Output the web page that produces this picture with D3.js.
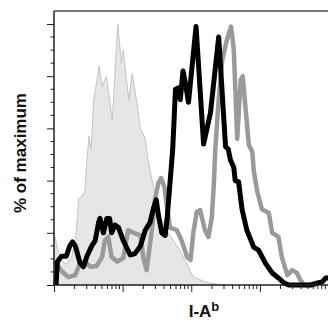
<!DOCTYPE html>
<html><head><meta charset="utf-8">
<script src="https://cdn.jsdelivr.net/npm/d3@7"></script>
<style>html,body{margin:0;padding:0;background:#fff;}svg{display:block;}</style>
</head><body>
<svg id="chart" width="328" height="325"></svg>
<script>
// x values in log10 decades of fluorescence (axis 10^0..10^4), y in % of maximum
const controlX = [0.00,0.06,0.12,0.18,0.26,0.32,0.36,0.41,0.45,0.48,0.51,0.54,0.58,0.66,0.70,0.76,0.80,0.85,0.89,0.93,0.98,1.01,1.05,1.09,1.14,1.20,1.26,1.33,1.37,1.43,1.49,1.55,1.64,1.74,1.84,1.94,2.03,2.13,2.23,2.35,2.50];
const controlY = [20,13,9,8,11,19,33,34,36,48,57,52,71,84,76,80,73,63,82,100,85,90,80,71,81,71,60,56,48,40,33,26,21,17,13,8,3,2,1,0.4,0];

const blackX = [0.03,0.05,0.11,0.18,0.23,0.27,0.31,0.38,0.43,0.48,0.55,0.60,0.65,0.67,0.72,0.77,0.81,0.84,0.89,0.94,1.01,1.11,1.18,1.26,1.33,1.40,1.45,1.49,1.52,1.57,1.62,1.65,1.69,1.73,1.77,1.81,1.84,1.88,1.91,1.96,2.07,2.18,2.28,2.40,2.50,2.54,2.57,2.62,2.64,2.69,2.74,2.81,2.91,2.98,3.08,3.18,3.27,3.35,3.42,3.74,3.84,3.91,3.96,4.00];
const blackY = [0,9,11,11,15,16.5,15,8.4,7,11,15,17,24,25.5,20,25.5,25.5,20,23,22,17,11.5,12,15,21,24,29.5,32.6,27,20,19,26,39,52,75,75.5,71,82,78,70,99,54,66,95,53,52,48,45,40,39.5,29,21,14.5,13.4,8.4,4.6,2.7,0.8,0,0,0.8,1.2,2.7,2.7];

const grayX = [0.01,0.06,0.14,0.21,0.31,0.38,0.45,0.53,0.62,0.70,0.74,0.79,0.84,0.92,1.01,1.08,1.16,1.26,1.30,1.35,1.43,1.47,1.52,1.56,1.61,1.65,1.69,1.79,1.86,1.94,1.99,2.03,2.08,2.13,2.20,2.25,2.30,2.33,2.35,2.40,2.45,2.52,2.58,2.62,2.67,2.72,2.75,2.79,2.84,2.89,2.91,2.96,3.03,3.13,3.18,3.27,3.32,3.40,3.47,3.54,3.59,3.64,3.82];
const grayY = [9,7,4.6,3,3.8,8.4,9,7,7.3,10.7,17,18.4,10.7,9,10.3,21,20,19,10.7,5.7,22,32.6,39,41,37.5,29.5,22,21,17,10.7,9.6,20,28,28.7,21,18.4,26,39,52,71,86,94,99,90,56,78.5,80,68,53.6,51,44,36,29,27.6,20,18.4,10.7,3.8,5.7,4.6,1.9,0,0];

const yTickValues = [0,20,40,60,80,100];
const xAxisLabel = "I-A";
const xAxisSup = "b";
const yAxisLabel = "% of maximum";

const svg = d3.select("#chart");
const L = 54, R = 328.5, T = 11, B = 285;
const xDec = d3.scaleLinear().domain([0,4]).range([L,R]);
const xLog = d3.scaleLog().domain([1,1e4]).range([L,R]);
const y = d3.scaleLinear().domain([0,100]).range([B,24]);

// control filled histogram
const area = d3.area().x((d,i)=>xDec(controlX[i])).y0(B).y1((d,i)=>y(controlY[i]));
svg.append("path").datum(controlY).attr("d",area)
  .attr("fill","#e6e6e6").attr("stroke","#c4c4c4").attr("stroke-width",1);

const line = (xs)=>d3.line().x((d,i)=>xDec(xs[i])).y(d=>y(d));
svg.append("path").datum(grayY).attr("d",line(grayX)(grayY))
  .attr("fill","none").attr("stroke","#9a9a9a").attr("stroke-width",4.5).attr("stroke-linejoin","round");
svg.append("path").datum(blackY).attr("d",line(blackX)(blackY))
  .attr("fill","none").attr("stroke","#000").attr("stroke-width",5).attr("stroke-linejoin","round");

// frame
svg.append("line").attr("x1",L).attr("x2",328).attr("y1",T).attr("y2",T)
  .attr("stroke","#7a7a7a").attr("stroke-width",1.8);

// y axis
const yMinor = d3.range(0,101,5).filter(v=>v%20!==0);
const yAxis = svg.append("g").attr("transform",`translate(${L},0)`)
  .call(d3.axisLeft(y).tickValues(yTickValues).tickSize(7).tickFormat(""));
yAxis.append("g").selectAll("line").data(yMinor).join("line")
  .attr("x1",-3.5).attr("x2",0).attr("y1",d=>y(d)).attr("y2",d=>y(d)).attr("stroke","#000");
yAxis.select(".domain").attr("d",`M0,${T}V${B}`).attr("stroke","#222").attr("stroke-width",1.5);
yAxis.selectAll("line").attr("stroke","#222");

// x axis
const xMajor = [1,10,100,1000,10000];
const xMinor = [];
for (let e=0;e<4;e++) for (let k=2;k<=9;k++) xMinor.push(k*Math.pow(10,e));
const xAxis = svg.append("g").attr("transform",`translate(0,${B})`)
  .call(d3.axisBottom(xLog).tickValues(xMajor).tickSize(7).tickFormat(""));
xAxis.append("g").selectAll("line").data(xMinor).join("line")
  .attr("x1",d=>xLog(d)).attr("x2",d=>xLog(d)).attr("y1",0).attr("y2",4).attr("stroke","#222");
xAxis.select(".domain").attr("d",`M${L},0H328`).attr("stroke","#222").attr("stroke-width",1.5);
xAxis.selectAll("line").attr("stroke","#222");

// labels
svg.append("text").attr("transform","translate(26,153) rotate(-90)")
  .attr("text-anchor","middle").attr("font-family","Liberation Sans, Arial, sans-serif")
  .attr("font-weight","bold").attr("font-size",17).attr("fill","#111").text(yAxisLabel);
const xt = svg.append("text").attr("x",204).attr("y",317).attr("text-anchor","middle")
  .attr("font-family","Liberation Sans, Arial, sans-serif").attr("font-weight","bold")
  .attr("font-size",17).attr("fill","#111");
xt.append("tspan").text(xAxisLabel);
xt.append("tspan").attr("dy",-6).attr("font-size",13).text(xAxisSup);
</script>
</body></html>
